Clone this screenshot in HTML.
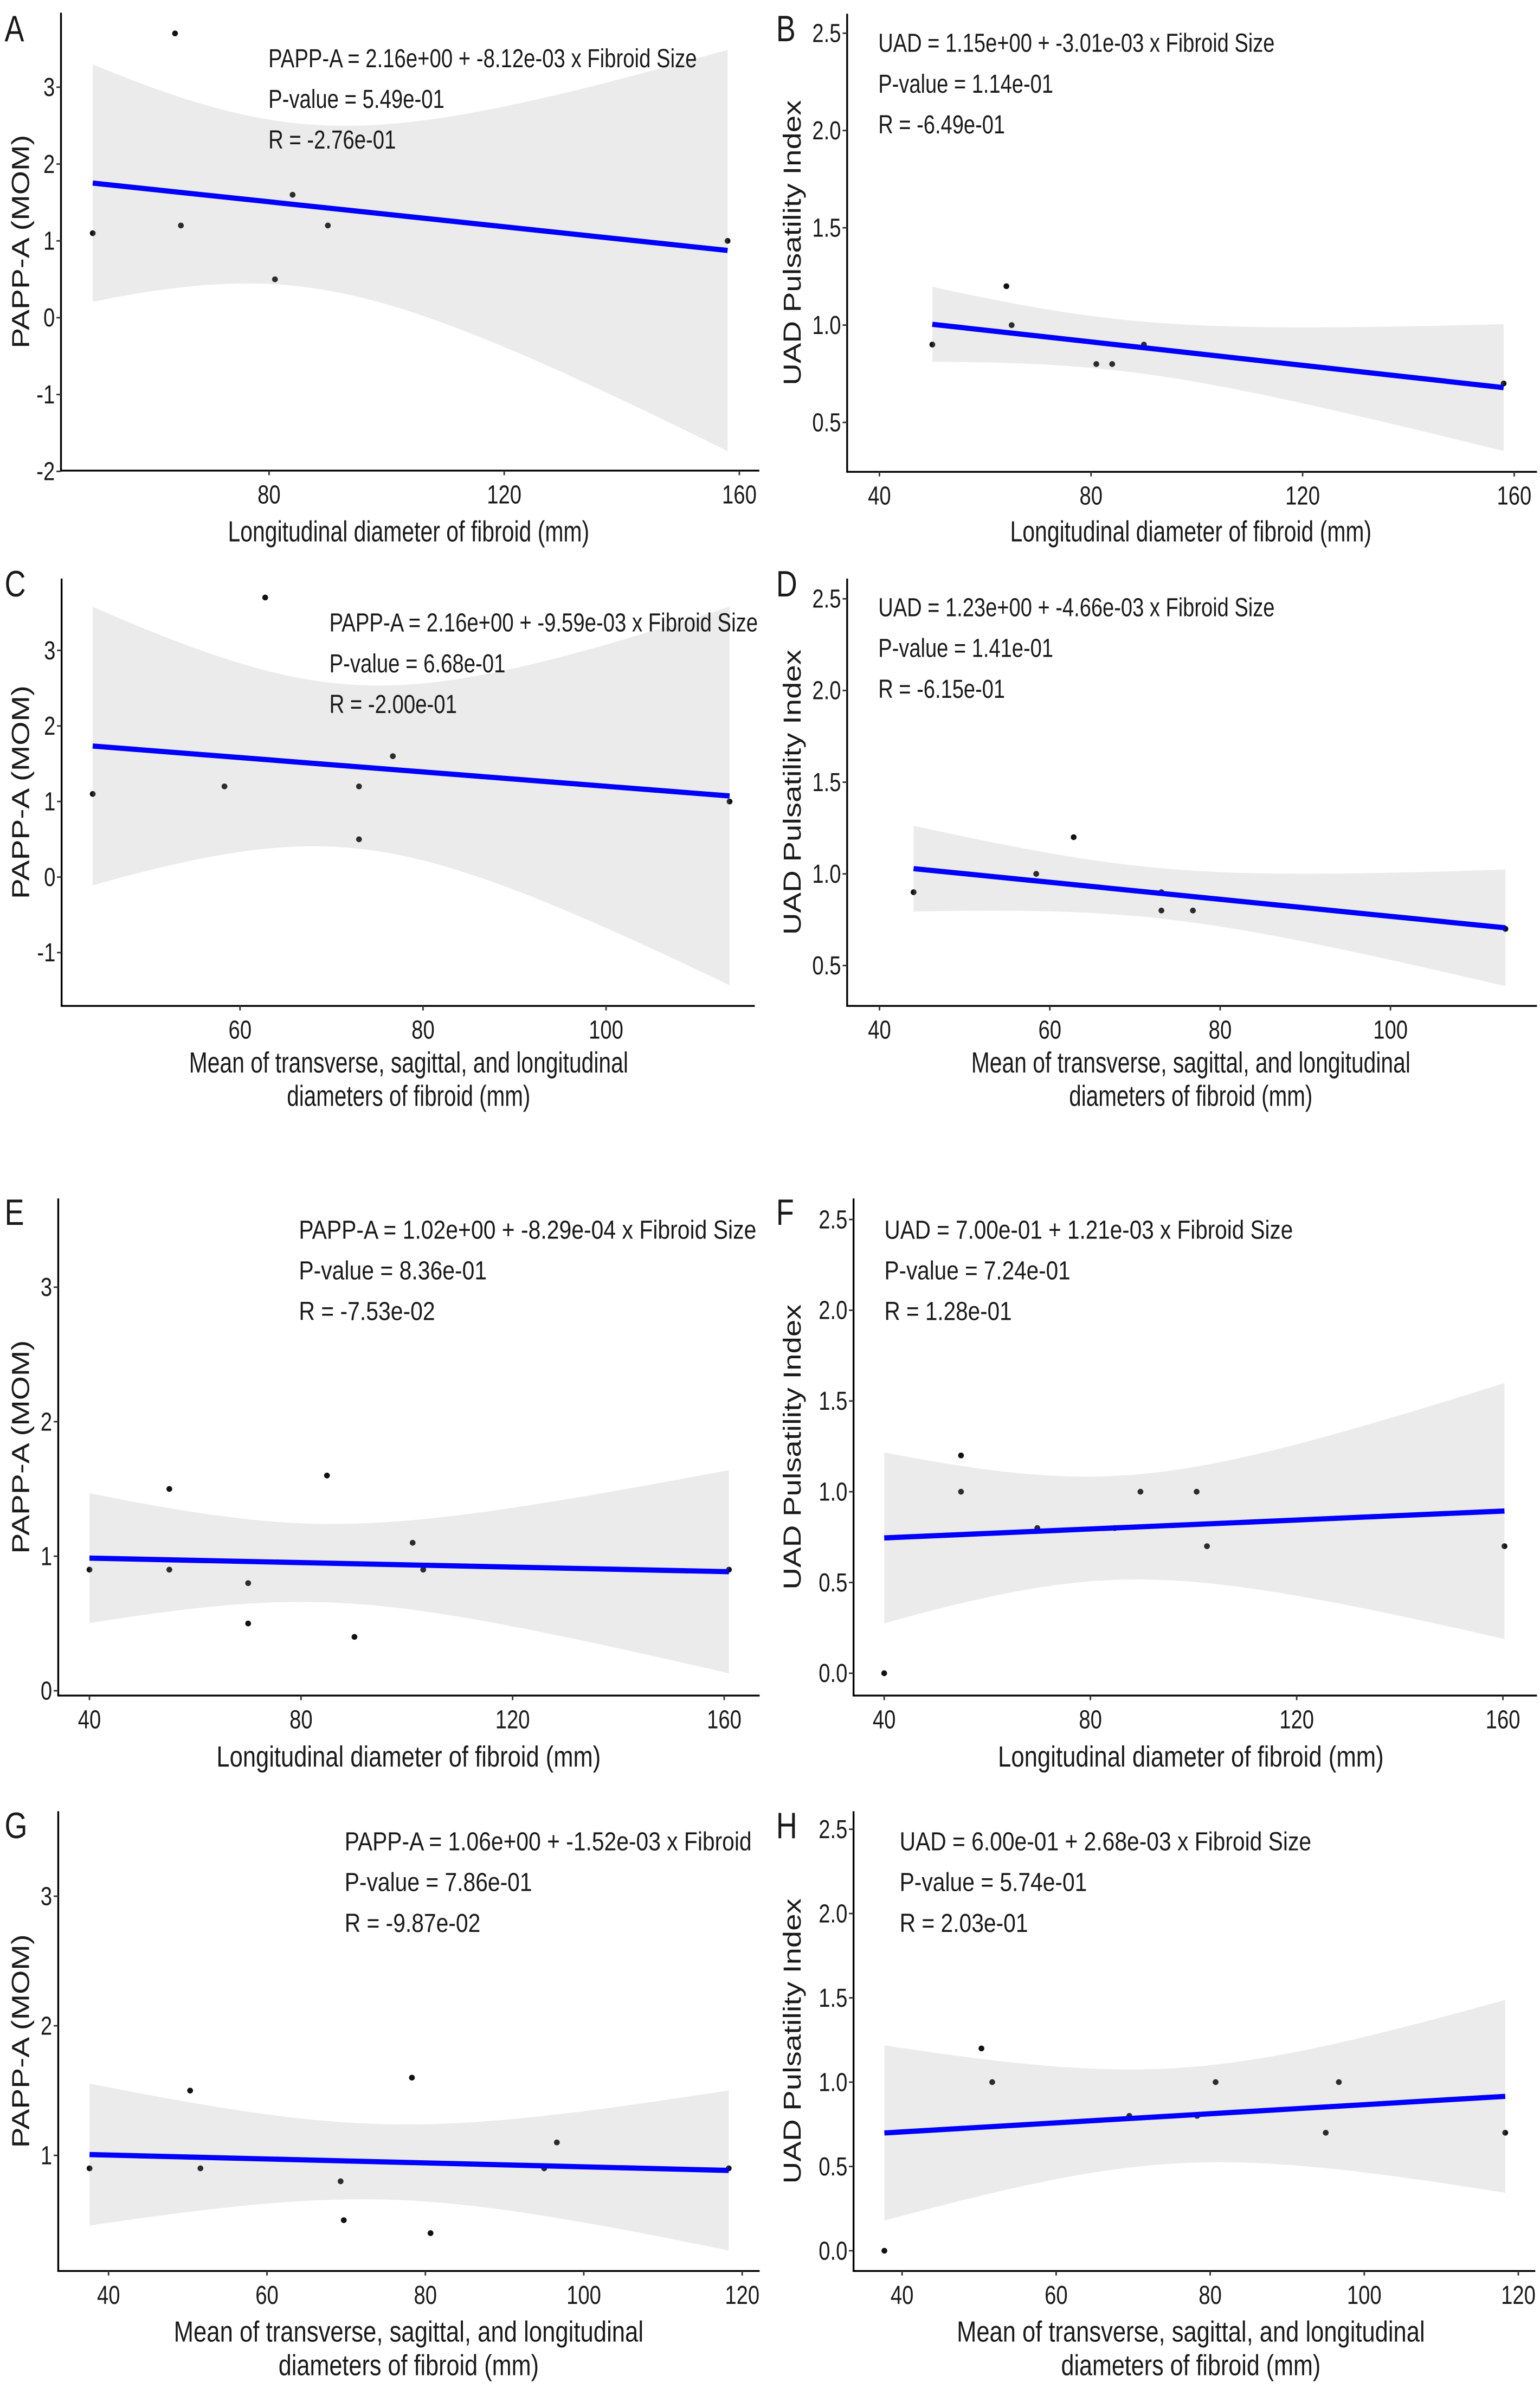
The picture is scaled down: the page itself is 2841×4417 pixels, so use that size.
<!DOCTYPE html>
<html><head><meta charset="utf-8">
<style>
html,body{margin:0;padding:0;background:#fff;}
svg{display:block;}
text{font-family:"Liberation Sans",sans-serif;fill:#1a1a1a;}
</style></head>
<body>
<svg id="fig" width="2841" height="4417" viewBox="0 0 1010 1570" preserveAspectRatio="none" xmlns="http://www.w3.org/2000/svg"></svg>
<script>
// ---- data ----
const aX=[50,64,65,81,84,90,158];
const aY=[1.1,3.7,1.2,0.5,1.6,1.2,1.0];
const bX=[50,64,65,81,84,90,158];
const bY=[0.9,1.2,1.0,0.8,0.8,0.9,0.7];
const cX=[43.9,62.75,58.3,73.0,76.7,73.0,113.5];
const cY=[1.1,3.7,1.2,0.5,1.6,1.2,1.0];
const dX=[44.0,62.8,58.4,73.1,76.8,73.1,113.5];
const dY=[0.9,1.2,1.0,0.8,0.8,0.9,0.7];
const eX=[40,55.1,55.1,70,70,84.9,90.1,101.1,103.1,160.9];
const eY=[0.9,1.5,0.9,0.8,0.5,1.6,0.4,1.1,0.9,0.9];
const fX=[40,54.9,54.9,69.7,84.7,89.7,100.6,102.6,160.3];
const fY=[0.0,1.2,1.0,0.8,0.8,1.0,1.0,0.7,0.7];
const gX=[37.6,50.3,51.6,69.3,69.7,78.3,80.65,95.0,96.6,118.3];
const gY=[0.9,1.5,0.9,0.8,0.5,1.6,0.4,0.9,1.1,0.9];
const hX=[37.7,50.3,51.7,69.5,78.3,80.7,95.0,96.7,118.3];
const hY=[0.0,1.2,1.0,0.8,0.8,1.0,0.7,1.0,0.7];
const papTicks=[-2,-1,0,1,2,3];
const papTicksC=[-1,0,1,2,3];
const papTicksE=[0,1,2,3];
const papTicksG=[1,2,3];
const uadTicks=[0.5,1.0,1.5,2.0,2.5];
const uadTicksF=[0.0,0.5,1.0,1.5,2.0,2.5];
const longTicks=[80,120,160];
const longTicksB=[40,80,120,160];
const meanTicksC=[60,80,100];
const meanTicksD=[40,60,80,100];
const meanTicksG=[40,60,80,100,120];
const eqA=["PAPP-A =  2.16e+00 + -8.12e-03 x Fibroid Size","P-value =  5.49e-01","R =  -2.76e-01"];
const eqB=["UAD =  1.15e+00 + -3.01e-03 x Fibroid Size","P-value =  1.14e-01","R =  -6.49e-01"];
const eqC=["PAPP-A =  2.16e+00 + -9.59e-03 x Fibroid Size","P-value =  6.68e-01","R =  -2.00e-01"];
const eqD=["UAD =  1.23e+00 + -4.66e-03 x Fibroid Size","P-value =  1.41e-01","R =  -6.15e-01"];
const eqE=["PAPP-A =  1.02e+00 + -8.29e-04 x Fibroid Size","P-value =  8.36e-01","R =  -7.53e-02"];
const eqF=["UAD =  7.00e-01 + 1.21e-03 x Fibroid Size","P-value =  7.24e-01","R =  1.28e-01"];
const eqG=["PAPP-A =  1.06e+00 + -1.52e-03 x Fibroid","P-value =  7.86e-01","R =  -9.87e-02"];
const eqH=["UAD =  6.00e-01 + 2.68e-03 x Fibroid Size","P-value =  5.74e-01","R =  2.03e-01"];

const NS="http://www.w3.org/2000/svg";
const svg=document.getElementById('fig');
const tq=[12.706,4.303,3.182,2.776,2.571,2.447,2.365,2.306,2.262,2.228,2.201,2.179];
const NARROW=0.8;
function mk(tag,attrs,parent){const e=document.createElementNS(NS,tag);for(const k in attrs)e.setAttribute(k,attrs[k]);(parent||svg).appendChild(e);return e;}

const panels=[
 {id:'a',letter:'A',lx:3,ly:27,x0:40,x1:498,y0:8.3,y1:308.5,xd:[44.6,163.4],yd:[-1.99,3.97],xs:aX,ys:aY,yt:papTicks,xt:longTicks,dec:0,
  ytitle:'PAPP-A (MOM)',ytx:13,ytl:140,xt1:'Longitudinal diameter of fibroid (mm)',xt2:null,xtw:237,xty:355,eq:eqA,ex:176,ey:38,ew:281},
 {id:'b',letter:'B',lx:509,ly:27,x0:555.6,x1:1008,y0:9,y1:309.3,xd:[33.9,164.3],yd:[0.246,2.6],xs:bX,ys:bY,yt:uadTicks,xt:longTicksB,dec:1,
  ytitle:'UAD Pulsatility Index',ytx:519,ytl:187,xt1:'Longitudinal diameter of fibroid (mm)',xt2:null,xtw:237,xty:355,eq:eqB,ex:576,ey:28,ew:260},
 {id:'c',letter:'C',lx:3,ly:391,x0:40.4,x1:495,y0:379.3,y1:659.4,xd:[40.5,116.25],yd:[-1.705,3.95],xs:cX,ys:cY,yt:papTicksC,xt:meanTicksC,dec:0,
  ytitle:'PAPP-A (MOM)',ytx:13,ytl:140,xt1:'Mean of transverse, sagittal, and longitudinal',xt2:'diameters of fibroid (mm)',xtw:288,xty:703,eq:eqC,ex:216,ey:408,ew:281},
 {id:'d',letter:'D',lx:509,ly:391,x0:555.6,x1:1008,y0:379.3,y1:659.4,xd:[36.2,117.2],yd:[0.28,2.61],xs:dX,ys:dY,yt:uadTicks,xt:meanTicksD,dec:1,
  ytitle:'UAD Pulsatility Index',ytx:519,ytl:187,xt1:'Mean of transverse, sagittal, and longitudinal',xt2:'diameters of fibroid (mm)',xtw:288,xty:703,eq:eqD,ex:576,ey:398,ew:260},
 {id:'e',letter:'E',lx:3,ly:803,x0:38.2,x1:498.2,y0:785.6,y1:1111.5,xd:[34.1,166.7],yd:[-0.036,3.66],xs:eX,ys:eY,yt:papTicksE,xt:longTicksB,dec:0,
  ytitle:'PAPP-A (MOM)',ytx:13,ytl:140,xt1:'Longitudinal diameter of fibroid (mm)',xt2:null,xtw:252,xty:1158,eq:eqE,ex:196,ey:806,ew:300},
 {id:'f',letter:'F',lx:509,ly:803,x0:559.8,x1:1008,y0:785.6,y1:1111.5,xd:[34.06,166.6],yd:[-0.123,2.616],xs:fX,ys:fY,yt:uadTicksF,xt:longTicksB,dec:1,
  ytitle:'UAD Pulsatility Index',ytx:519,ytl:187,xt1:'Longitudinal diameter of fibroid (mm)',xt2:null,xtw:253,xty:1158,eq:eqF,ex:580,ey:806,ew:268},
 {id:'g',letter:'G',lx:3,ly:1205,x0:38.2,x1:498.2,y0:1187.3,y1:1488.7,xd:[33.65,122.2],yd:[0.108,3.656],xs:gX,ys:gY,yt:papTicksG,xt:meanTicksG,dec:0,
  ytitle:'PAPP-A (MOM)',ytx:13,ytl:140,xt1:'Mean of transverse, sagittal, and longitudinal',xt2:'diameters of fibroid (mm)',xtw:308,xty:1535,eq:eqG,ex:226,ey:1207,ew:267},
 {id:'h',letter:'H',lx:509,ly:1205,x0:559.8,x1:1006.9,y0:1187.3,y1:1488.7,xd:[33.7,122.2],yd:[-0.12,2.607],xs:hX,ys:hY,yt:uadTicksF,xt:meanTicksG,dec:1,
  ytitle:'UAD Pulsatility Index',ytx:519,ytl:187,xt1:'Mean of transverse, sagittal, and longitudinal',xt2:'diameters of fibroid (mm)',xtw:307,xty:1535,eq:eqH,ex:590,ey:1207,ew:270}
];

function narrowText(g,str,x,y,size,anchor){
  const t=mk('text',{transform:`translate(${x},${y}) scale(${NARROW},1)`,'font-size':size,'text-anchor':anchor||'start'},g);
  t.textContent=str;return t;
}

panels.forEach(p=>{
  const g=mk('g',{});
  
  
  const sx=v=>p.x0+(v-p.xd[0])/(p.xd[1]-p.xd[0])*(p.x1-p.x0);
  const sy=v=>p.y1-(v-p.yd[0])/(p.yd[1]-p.yd[0])*(p.y1-p.y0);
  const L=narrowText(g,p.letter,p.lx,p.ly,24,'start');
  
  
  const n=p.xs.length;
  const xm=p.xs.reduce((a,b)=>a+b,0)/n, ym=p.ys.reduce((a,b)=>a+b,0)/n;
  let sxx=0,sxy=0;for(let i=0;i<n;i++){sxx+=(p.xs[i]-xm)**2;sxy+=(p.xs[i]-xm)*(p.ys[i]-ym);}
  const b=sxy/sxx,a=ym-b*xm;
  let sse=0;for(let i=0;i<n;i++){sse+=(p.ys[i]-a-b*p.xs[i])**2;}
  const s=Math.sqrt(sse/(n-2)), t=tq[Math.min(n-3,tq.length-1)];
  const xmin=Math.min(...p.xs),xmax=Math.max(...p.xs);
  for(let i=0;i<n;i++){
    const c=mk('circle',{cx:sx(p.xs[i]),cy:sy(p.ys[i]),r:1.9,fill:'#111'},g);
    
    
  }
  const up=[],lo=[];
  for(let k=0;k<=80;k++){const x=xmin+(xmax-xmin)*k/80;const f=a+b*x;const h=t*s*Math.sqrt(1/n+(x-xm)**2/sxx);
    up.push(sx(x).toFixed(2)+','+sy(f+h).toFixed(2));lo.unshift(sx(x).toFixed(2)+','+sy(f-h).toFixed(2));}
  const band=mk('polygon',{points:up.concat(lo).join(' '),fill:'#999',opacity:0.2},g);
  
  
  const ln=mk('line',{x1:sx(xmin),y1:sy(a+b*xmin),x2:sx(xmax),y2:sy(a+b*xmax),stroke:'#0000ff','stroke-width':3.4},g);
  
  
  const ya=mk('line',{x1:p.x0,y1:p.y0,x2:p.x0,y2:p.y1,stroke:'#000','stroke-width':1.2},g);
  
  
  const xa=mk('line',{x1:p.x0-0.6,y1:p.y1,x2:p.x1,y2:p.y1,stroke:'#000','stroke-width':1.2},g);
  
  
  p.yt.forEach(v=>{
    mk('line',{x1:p.x0-3,y1:sy(v),x2:p.x0,y2:sy(v),stroke:'#333','stroke-width':1},g);
    const tl=narrowText(g,p.dec?v.toFixed(1):String(v),p.x0-4,sy(v)+5.8,17,'end');
    
    
  });
  p.xt.forEach(v=>{
    mk('line',{x1:sx(v),y1:p.y1,x2:sx(v),y2:p.y1+3,stroke:'#333','stroke-width':1},g);
    const tl=narrowText(g,String(v),sx(v),p.y1+21.5,17,'middle');
    
    
  });
  const cy=(p.y0+p.y1)/2;
  const yt=mk('text',{transform:`translate(${p.ytx+6},${cy}) rotate(-90)`,'font-size':16,'text-anchor':'middle',textLength:p.ytl,lengthAdjust:'spacingAndGlyphs'},g);
  yt.textContent=p.ytitle;
  
  
  const cx=p.id==='a'||p.id==='c'||p.id==='e'||p.id==='g'?268:781;
  const xt=mk('text',{x:cx,y:p.xty,'font-size':19,'text-anchor':'middle',textLength:p.xtw,lengthAdjust:'spacingAndGlyphs'},g);
  xt.textContent=p.xt1;
  
  
  if(p.xt2){
    const w2=p.xtw*p.xt2.length/p.xt1.length*1.02;
    const xt2=mk('text',{x:cx,y:p.xty+22,'font-size':19,'text-anchor':'middle',textLength:w2,lengthAdjust:'spacingAndGlyphs'},g);
    xt2.textContent=p.xt2;
    
    
  }
  const eg=mk('g',{},g);
  
  
  const lines=p.eq.map((str,i)=>{const tt=mk('text',{x:0,y:p.ey+6+i*26.7,'font-size':17,'xml:space':'preserve'},eg);tt.textContent=str;return tt;});
  const nat=lines[0].getComputedTextLength()||p.ew;
  const k=p.ew/nat;
  eg.setAttribute('transform',`translate(${p.ex},0) scale(${k},1)`);
});
</script>
</body></html>
